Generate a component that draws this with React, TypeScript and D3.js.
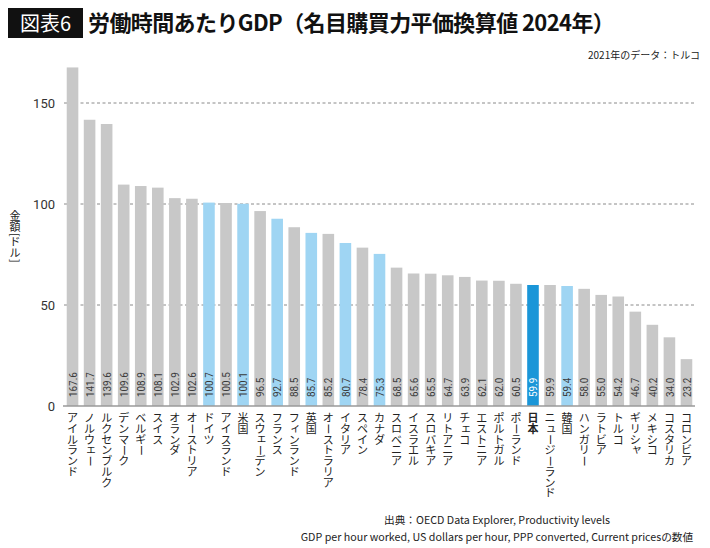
import React from "react";
import * as d3 from "d3";

const countries = [
  "アイルランド", "ノルウェー", "ルクセンブルク", "デンマーク", "ベルギー", "スイス", "オランダ", "オーストリア",
  "ドイツ", "アイスランド", "米国", "スウェーデン", "フランス", "フィンランド", "英国", "オーストラリア",
  "イタリア", "スペイン", "カナダ", "スロベニア", "イスラエル", "スロバキア", "リトアニア", "チェコ",
  "エストニア", "ポルトガル", "ポーランド", "日本", "ニュージーランド", "韓国", "ハンガリー", "ラトビア",
  "トルコ", "ギリシャ", "メキシコ", "コスタリカ", "コロンビア",
];
const values = [
  167.6, 141.7, 139.6, 109.6, 108.9, 108.1, 102.9, 102.6,
  100.7, 100.5, 100.1, 96.5, 92.7, 88.5, 85.7, 85.2,
  80.7, 78.4, 75.3, 68.5, 65.6, 65.5, 64.7, 63.9,
  62.1, 62.0, 60.5, 59.9, 59.9, 59.4, 58.0, 55.0,
  54.2, 46.7, 40.2, 34.0, 23.2,
];
const highlighted = ["ドイツ", "米国", "フランス", "英国", "イタリア", "カナダ", "韓国"];
const focus = "日本";
const yTicks = [0, 50, 100, 150];

const titleTag = "図表6";
const title = "労働時間あたりGDP（名目購買力平価換算値 2024年）";
const note = "2021年のデータ：トルコ";
const yLabel = "金額[ドル]";
const source1 = "出典：OECD Data Explorer, Productivity levels";
const source2 = "GDP per hour worked, US dollars per hour, PPP converted, Current pricesの数値";

const W = 710;
const H = 548;
const JP = "'Noto Sans CJK JP', 'Noto Sans', sans-serif";
const NUM = "Roboto, 'Noto Sans', sans-serif";

const SMALL = "ァィゥェォッャュョヮ";
const ROTATE = "ー";

function VerticalText(props: {
  text: string;
  cx: number;
  top: number;
  size: number;
  step: number;
  fill: string;
  weight?: number;
}) {
  const { text, cx, top, size, step, fill, weight } = props;
  const chars = Array.from(text);
  let yPos = top;
  const out: React.ReactNode[] = [];
  chars.forEach((ch, i) => {
    if (ch === "[" || ch === "]") {
      const adv = size * 0.35;
      const cy = yPos + adv / 2;
      out.push(
        <text
          key={i}
          transform={`translate(${cx},${cy}) rotate(90)`}
          textAnchor="middle"
          dy="0.35em"
          fill={fill}
          fontFamily={JP}
          fontSize={size}
          fontWeight={weight ?? 400}
        >
          {ch}
        </text>
      );
      yPos += adv;
      return;
    }
    const cy = yPos + step / 2;
    if (ROTATE.includes(ch)) {
      out.push(
        <text
          key={i}
          transform={`translate(${cx},${cy}) rotate(90)`}
          textAnchor="middle"
          dy="0.35em"
          fill={fill}
          fontFamily={JP}
          fontSize={size}
          fontWeight={weight ?? 400}
        >
          {ch}
        </text>
      );
    } else {
      const small = SMALL.includes(ch);
      out.push(
        <text
          key={i}
          x={cx + (small ? size * 0.12 : 0)}
          y={cy - (small ? size * 0.12 : 0)}
          textAnchor="middle"
          dy="0.36em"
          fill={fill}
          fontFamily={JP}
          fontSize={size}
          fontWeight={weight ?? 400}
        >
          {ch}
        </text>
      );
    }
    yPos += step;
  });
  return <g>{out}</g>;
}

export default function App() {
  const x = d3
    .scaleBand<string>()
    .domain(countries)
    .range([64, 695])
    .paddingInner(0.32)
    .paddingOuter(0.16);
  const y = d3.scaleLinear().domain([0, 150]).range([406, 103]);

  const colorOf = (c: string) =>
    c === focus ? "#1a96d8" : highlighted.includes(c) ? "#9fd5f3" : "#c8c8c8";

  return (
    <div style={{ position: "fixed", left: 0, top: 0, width: W, height: H, background: "#fff" }}>
      <svg width={W} height={H} viewBox={`0 0 ${W} ${H}`}>
        <rect x={0} y={0} width={W} height={H} fill="#fff" />
        {/* title */}
        <rect x={8} y={8} width={75} height={30} fill="#111" />
        <text x={45.5} y={31} textAnchor="middle" fill="#fff" fontFamily={JP} fontSize={20} fontWeight={400}>
          {titleTag}
        </text>
        <text x={88} y={31} fill="#111" fontFamily={JP} fontSize={22} fontWeight={700} letterSpacing={-0.6}>
          {title}
        </text>
        <text x={700} y={59} textAnchor="end" fill="#222" fontFamily={JP} fontSize={10}>
          {note}
        </text>

        {/* gridlines */}
        {yTicks
          .filter((t) => t > 0)
          .map((t) => (
            <line
              key={t}
              x1={64}
              x2={695}
              y1={y(t)}
              y2={y(t)}
              stroke="#8a8a8a"
              strokeWidth={1}
              strokeDasharray="3 2.5"
            />
          ))}
        {/* y tick labels */}
        {yTicks.map((t) => (
          <text
            key={t}
            x={55}
            y={y(t)}
            dy="0.35em"
            textAnchor="end"
            fill="#333"
            fontFamily={NUM}
            fontSize={13}
          >
            {t}
          </text>
        ))}
        {/* y label */}
        <VerticalText text={yLabel} cx={15} top={211} size={11} step={11} fill="#222" />

        {/* bars */}
        {countries.map((c, i) => (
          <rect
            key={c}
            x={x(c)!}
            y={y(values[i])}
            width={x.bandwidth()}
            height={y(0) - y(values[i])}
            fill={colorOf(c)}
          />
        ))}
        {/* value labels */}
        {countries.map((c, i) => {
          const cx = x(c)! + x.bandwidth() / 2;
          return (
            <text
              key={c}
              transform={`translate(${cx},397) rotate(-90) scale(0.86,1)`}
              dy="0.36em"
              fill={c === focus ? "#fff" : "#3a3a3a"}
              fontFamily={NUM}
              fontSize={11.5}
            >
              {values[i].toFixed(1)}
            </text>
          );
        })}
        {/* baseline */}
        <line x1={63} x2={695} y1={y(0)} y2={y(0)} stroke="#9a9a9a" strokeWidth={1.5} />

        {/* category labels */}
        {countries.map((c) => {
          const cx = x(c)! + x.bandwidth() / 2;
          return (
            <VerticalText
              key={c}
              text={c}
              cx={cx}
              top={413}
              size={11}
              step={10.7}
              fill="#222"
              weight={c === focus ? 700 : 400}
            />
          );
        })}

        {/* source */}
        <text x={497} y={524} textAnchor="middle" fill="#222" fontFamily={JP} fontSize={10.7}>
          {source1}
        </text>
        <text x={497} y={541} textAnchor="middle" fill="#222" fontFamily={JP} fontSize={10.7}>
          {source2}
        </text>
      </svg>
    </div>
  );
}
